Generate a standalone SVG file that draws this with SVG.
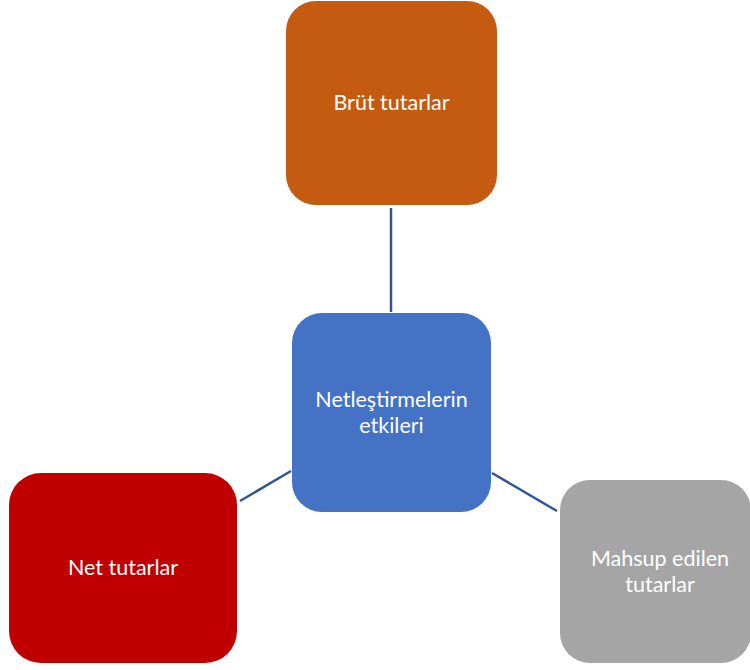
<svg xmlns="http://www.w3.org/2000/svg" width="750" height="670" viewBox="0 0 750 670">
  <style>
    .box { stroke: none; }
    .label { font-family: Lato, "Open Sans", "Liberation Sans", sans-serif; font-size: 21.5px; fill: #ffffff; text-anchor: middle; }
    .link { stroke: #2F5597; stroke-width: 2.5; fill: none; }
  </style>
  <rect width="750" height="670" fill="#ffffff"/>
  <g id="connectors">
    <line class="link" x1="391" y1="208" x2="391" y2="312"/>
    <line class="link" x1="240" y1="501" x2="291" y2="471"/>
    <line class="link" x1="492" y1="473" x2="557" y2="511"/>
  </g>
  <g id="node-brut">
    <rect class="box" x="286" y="1" width="211" height="204" rx="30" fill="#C55A11"/>
    <text class="label" x="391.5" y="110">Brüt tutarlar</text>
  </g>
  <g id="node-center">
    <rect class="box" x="292" y="313" width="199" height="199" rx="30" fill="#4472C4"/>
    <text class="label" x="391.5" y="407">Netleştirmelerin</text>
    <text class="label" x="391.5" y="433">etkileri</text>
  </g>
  <g id="node-net">
    <rect class="box" x="9" y="473" width="228" height="190" rx="32" fill="#C00000"/>
    <text class="label" x="123" y="575">Net tutarlar</text>
  </g>
  <g id="node-mahsup">
    <rect class="box" x="560" y="480" width="191" height="183" rx="30" fill="#A5A5A5"/>
    <text class="label" x="660" y="566">Mahsup edilen</text>
    <text class="label" x="660" y="592">tutarlar</text>
  </g>
</svg>
